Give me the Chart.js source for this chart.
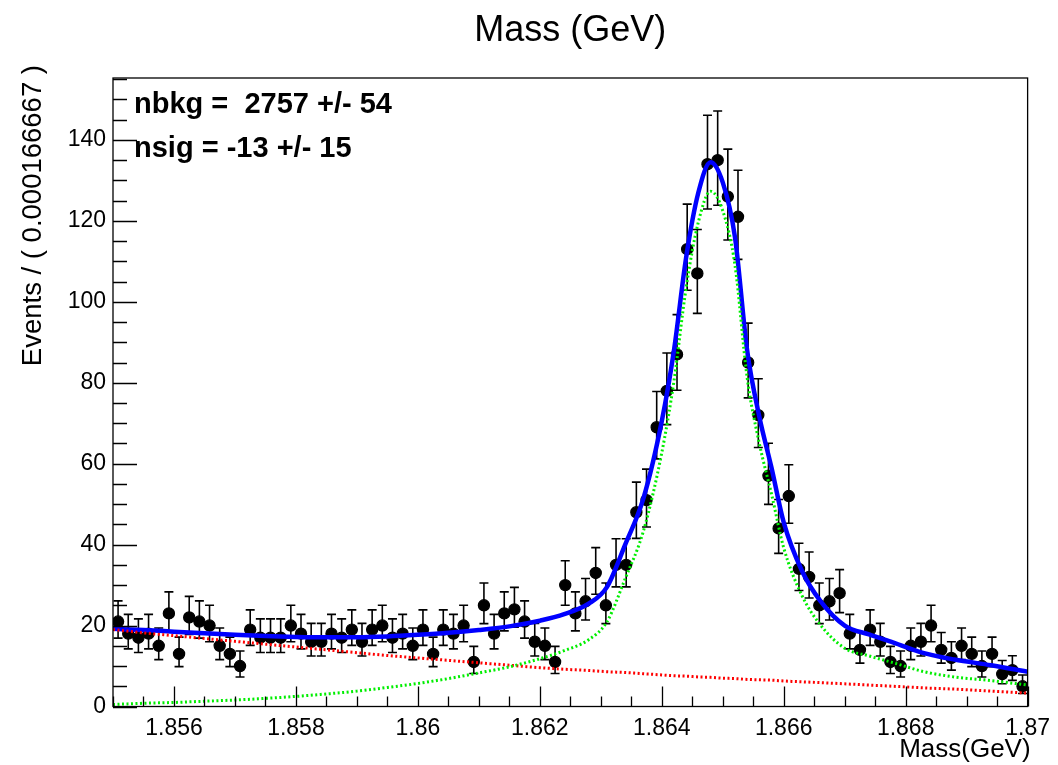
<!DOCTYPE html>
<html><head><meta charset="utf-8">
<script src="https://cdn.jsdelivr.net/npm/chart.js@4/dist/chart.umd.min.js"></script>
<style>html,body{margin:0;padding:0;background:#fff;}canvas{display:block;}</style>
</head><body>
<canvas id="c" width="1058" height="765"></canvas>
<script>
// ---- data ----
const massMin = 1.855, massMax = 1.87, binWidth = 0.000166667;
const counts = [21,18,17,18,15,23,13,22,21,20, 15,13,10,19,17,17,17,20,18,16,
  16,18,17,19,16,19,20,17,18,15, 19,13,19,18,20,11,25,18,23,24,
  21,16,15,11,30,23,26,33,25,35, 35,48,51,69,78,87,113,107,134,135,
  126,121,85,72,57,44,52,34,32,25, 26,28,18,14,19,16,11,10,15,16,
  20,14,12,15,13,10,13,8,9,5];
const curveMass = [1.8550,1.8555,1.8560,1.8565,1.8570,1.8575,1.8580,1.8585,1.8590,1.8595,
  1.8600,1.8605,1.8610,1.8615,1.8620,1.8624,1.8628,1.8631,1.8634,1.8637,
  1.8640,1.8642,1.8644,1.8646,1.8648,1.8650,1.8652,1.8654,1.8656,1.8658,
  1.8660,1.8663,1.8666,1.8670,1.8674,1.8678,1.8683,1.8688,1.8694,1.8700];
const totalFit = [19.2,18.9,18.5,18.1,17.7,17.4,17.2,17.1,17.1,17.3,
  17.7,18.2,18.9,19.8,21.2,22.8,25.4,29.5,40.0,51.5,
  70.5,88.0,111.0,127.0,134.5,129.5,116.0,88.0,71.6,59.0,
  45.5,33.5,26.1,20.0,17.8,15.8,13.2,11.6,10.2,8.6];
const bkgCurve = [19.0,18.2,17.5,16.8,16.1,15.4,14.7,14.0,13.3,12.6,
  12.0,11.4,10.8,10.2,9.6,9.2,8.9,8.6,8.4,8.1,
  7.8,7.6,7.5,7.3,7.2,7.0,6.9,6.7,6.6,6.5,
  6.3,6.1,5.9,5.6,5.3,5.0,4.6,4.3,3.8,3.3];
const sigCurve = [0.5,0.8,1.0,1.3,1.6,2.0,2.5,3.1,3.8,4.7,
  5.7,6.9,8.3,9.8,11.8,13.8,16.5,20.9,31.6,43.4,
  62.7,80.4,103.5,119.7,127.3,122.5,109.1,81.3,65.0,52.5,
  39.2,27.4,20.2,14.4,12.5,10.8,8.6,7.3,6.4,5.3];
const xTickValues = [1.856,1.858,1.86,1.862,1.864,1.866,1.868,1.87];
const xTickLabels = ["1.856","1.858","1.86","1.862","1.864","1.866","1.868","1.87"];
const yTickValues = [0,20,40,60,80,100,120,140];
const yTickLabels = ["0","20","40","60","80","100","120","140"];
const yMax = 155.3;
const xMinorStep = 0.0005, yMinorStep = 5;
const titleText = "Mass (GeV)";
const xTitle = "Mass(GeV)";
const yTitle = "Events / ( 0.000166667 )";
const statLines = ["nbkg =  2757 +/- 54", "nsig = -13 +/- 15"];

const FONT = "'Liberation Sans', Arial, Helvetica, sans-serif";

const dataPts = counts.map((n,i)=>({x: massMin + (i+0.5)*binWidth, y: n}));
const mk = arr => curveMass.map((m,i)=>({x:m, y:arr[i]}));

const errorBars = {
  id:'errorBars',
  beforeDatasetsDraw(chart){
    const {ctx, chartArea:a, scales:{x:xs, y:ys}} = chart;
    ctx.save();
    ctx.beginPath(); ctx.rect(a.left, a.top, a.right-a.left, a.bottom-a.top); ctx.clip();
    ctx.strokeStyle = '#000'; ctx.lineWidth = 1.6;
    dataPts.forEach(p=>{
      const r = Math.sqrt(p.y + 0.25);
      const lo = p.y - (r - 0.5), hi = p.y + r + 0.5;
      const px = xs.getPixelForValue(p.x);
      const y1 = ys.getPixelForValue(lo), y2 = ys.getPixelForValue(hi);
      ctx.beginPath();
      ctx.moveTo(px, y1); ctx.lineTo(px, y2);
      ctx.moveTo(px-4.5, y1); ctx.lineTo(px+4.5, y1);
      ctx.moveTo(px-4.5, y2); ctx.lineTo(px+4.5, y2);
      ctx.stroke();
    });
    ctx.restore();
  }
};

const frameAndText = {
  id:'frameAndText',
  afterDraw(chart){
    const {ctx, chartArea:a, scales:{x:xs, y:ys}} = chart;
    ctx.save();
    ctx.strokeStyle = '#000'; ctx.lineWidth = 1.3;
    ctx.strokeRect(a.left, a.top, a.right-a.left, a.bottom-a.top);
    ctx.beginPath();
    for (let v = massMin; v <= massMax + 1e-9; v += xMinorStep) {
      const px = Math.round(xs.getPixelForValue(v)) + 0.5;
      const major = xTickValues.some(t => Math.abs(t - v) < 1e-7);
      ctx.moveTo(px, a.bottom); ctx.lineTo(px, a.bottom - (major ? 20 : 10));
    }
    for (let v = 0; v <= yMax; v += yMinorStep) {
      const py = Math.round(ys.getPixelForValue(v)) + 0.5;
      const major = yTickValues.includes(v);
      ctx.moveTo(a.left, py); ctx.lineTo(a.left + (major ? 24 : 14), py);
    }
    ctx.stroke();

    ctx.fillStyle = '#000';
    ctx.font = `36px ${FONT}`; ctx.textAlign = 'center'; ctx.textBaseline = 'alphabetic';
    ctx.fillText(titleText, (a.left + a.right)/2, 41);
    ctx.font = `26px ${FONT}`; ctx.textAlign = 'right';
    ctx.fillText(xTitle, a.right + 3, 757);
    ctx.save();
    ctx.font = `27.5px ${FONT}`;
    ctx.translate(41, a.top - 13); ctx.rotate(-Math.PI/2);
    ctx.textAlign = 'right'; ctx.fillText(yTitle, 0, 0);
    ctx.restore();
    ctx.font = `bold 29px ${FONT}`; ctx.textAlign = 'left';
    ctx.fillText(statLines[0], 134, 113);
    ctx.fillText(statLines[1], 134, 157);
    ctx.restore();
  }
};

new Chart(document.getElementById('c').getContext('2d'), {
  type: 'scatter',
  data: { datasets: [
    { label:'signal', data: mk(sigCurve), showLine:true, pointRadius:0, borderColor:'#00ee00',
      borderWidth:3, borderDash:[2,2.5], cubicInterpolationMode:'monotone', fill:false, order:1 },
    { label:'background', data: mk(bkgCurve), showLine:true, pointRadius:0, borderColor:'#ff0000',
      borderWidth:3, borderDash:[2,2.5], cubicInterpolationMode:'monotone', fill:false, order:2 },
    { label:'total', data: mk(totalFit), showLine:true, pointRadius:0, borderColor:'#0000ff',
      borderWidth:4.5, cubicInterpolationMode:'monotone', fill:false, order:3 },
    { label:'data', data: dataPts, showLine:false, pointRadius:5.6, pointBackgroundColor:'#000',
      pointBorderColor:'#000', pointBorderWidth:1.2, order:4 }
  ]},
  options: {
    responsive:false, animation:false, devicePixelRatio:1,
    layout:{ padding:{ left:0, right:25, top:78, bottom:0 } },
    plugins:{ legend:{display:false}, tooltip:{enabled:false}, title:{display:false} },
    scales:{
      x:{ type:'linear', min:massMin, max:massMax,
        grid:{display:false, drawTicks:false}, border:{display:false},
        afterBuildTicks: s => { s.ticks = xTickValues.map(v=>({value:v})); },
        afterFit: s => { s.height = 58.5; },
        ticks:{ autoSkip:false, maxRotation:0, minRotation:0, padding:8, color:'#000',
          font:{family:FONT, size:23}, callback:(v,i)=>xTickLabels[i] } },
      y:{ type:'linear', min:0, max:yMax,
        grid:{display:false, drawTicks:false}, border:{display:false},
        afterBuildTicks: s => { s.ticks = yTickValues.map(v=>({value:v})); },
        afterFit: s => { s.width = 113; },
        ticks:{ autoSkip:false, padding:7, color:'#000',
          font:{family:FONT, size:23}, callback:(v,i)=>yTickLabels[i] } }
    }
  },
  plugins:[errorBars, frameAndText]
});
</script>
</body></html>
